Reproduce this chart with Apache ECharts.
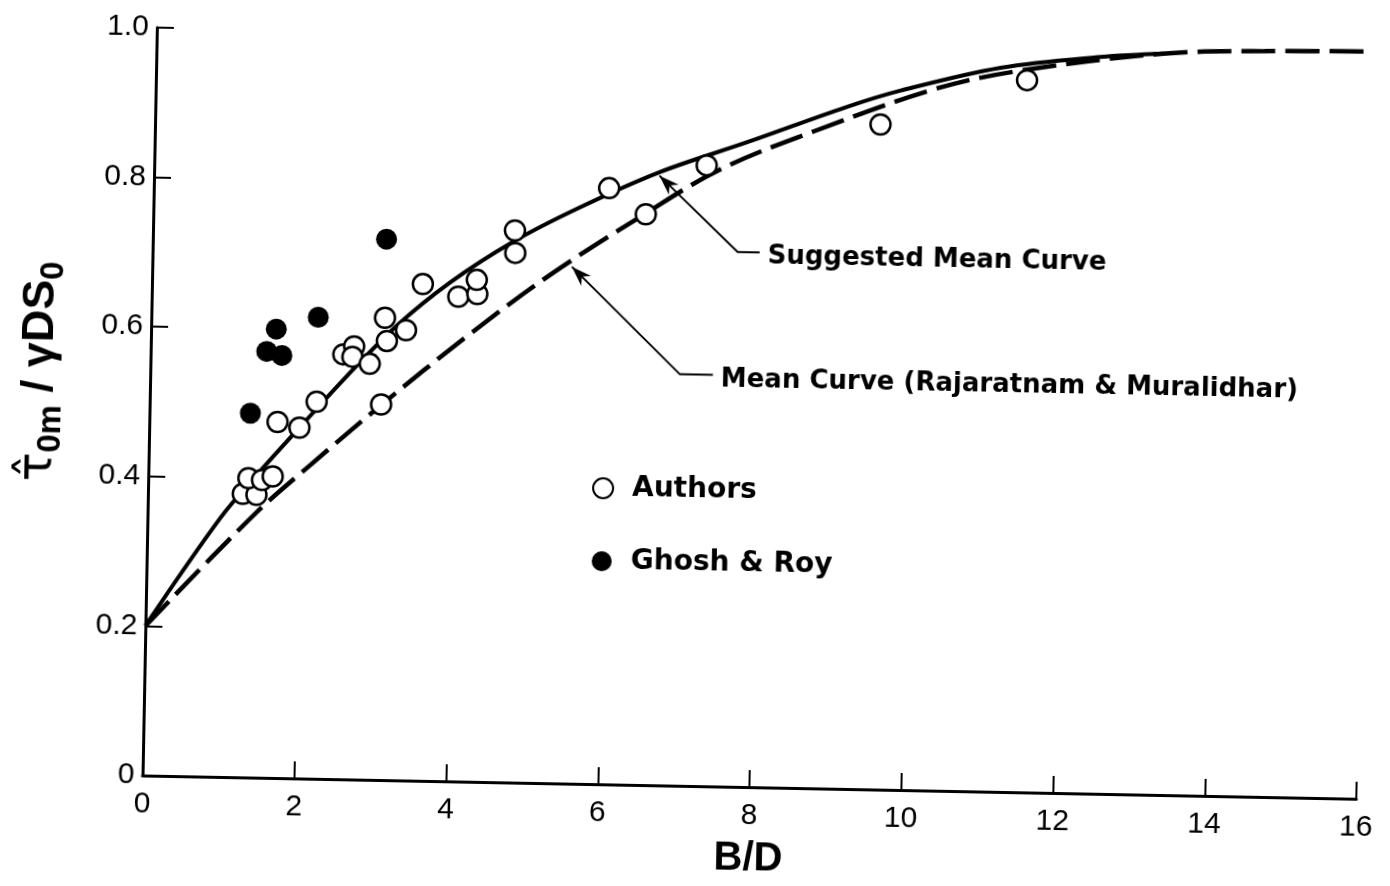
<!DOCTYPE html>
<html>
<head>
<meta charset="utf-8">
<title>Shear stress ratio vs B/D</title>
<script src="https://cdn.jsdelivr.net/npm/echarts/dist/echarts.min.js"></script>
<style>
  html, body { margin: 0; padding: 0; background: #fff; overflow: hidden; }
  #chart { width: 1390px; height: 886px; transform: rotate(1.1deg); transform-origin: 50% 50%; }
</style>
</head>
<body>
<div id="chart"></div>
<script>
// Measured points: B/D against normalised max bed shear stress
const authorsBD  = [1.25, 1.43, 1.32, 1.50, 1.64, 1.69, 1.98, 2.20, 3.05, 2.54, 2.68, 2.66, 2.89, 3.11, 3.08, 3.36, 3.57, 4.04, 4.29, 4.28, 4.77, 4.78, 6.00, 6.49, 7.28, 9.56, 11.48];
const authorsTau = [0.379, 0.378, 0.400, 0.398, 0.403, 0.476, 0.469, 0.504, 0.502, 0.568, 0.579, 0.565, 0.556, 0.587, 0.618, 0.602, 0.664, 0.648, 0.652, 0.671, 0.738, 0.708, 0.797, 0.763, 0.830, 0.889, 0.952];

const ghoshBD  = [3.08, 1.65, 2.20, 1.53, 1.73, 1.33];
const ghoshTau = [0.723, 0.600, 0.617, 0.570, 0.565, 0.487];

// Suggested mean curve (solid)
const suggestedBD  = [0, 0.96, 1.45, 1.99, 2.60, 3.24, 3.93, 4.75, 5.63, 6.67, 7.81, 9.12, 9.82, 11.13, 12.44, 13.27];
const suggestedTau = [0.200, 0.346, 0.407, 0.470, 0.540, 0.608, 0.667, 0.723, 0.771, 0.820, 0.862, 0.912, 0.935, 0.968, 0.985, 0.991];

// Mean curve of Rajaratnam & Muralidhar (dashed)
const rajaratnamBD  = [0, 1.42, 2.13, 3.06, 4.16, 5.25, 6.47, 7.46, 8.68, 10.21, 11.30, 13.27, 14.60, 16.00];
const rajaratnamTau = [0.200, 0.353, 0.419, 0.502, 0.595, 0.680, 0.763, 0.825, 0.878, 0.936, 0.963, 0.991, 0.997, 0.999];

const xTickValues = [0, 2, 4, 6, 8, 10, 12, 14, 16];
const yTickLabels = ['0', '0.2', '0.4', '0.6', '0.8', '1.0'];

const seriesNames = ['Authors', 'Ghosh & Roy'];
const curveNames = ['Suggested Mean Curve', 'Mean Curve (Rajaratnam & Muralidhar)'];

const zip = (xs, ys) => xs.map((x, i) => [x, ys[i]]);

const FONT = '"Liberation Sans", Arial, sans-serif';
const NOTE_FONT = '"DejaVu Sans", "Liberation Sans", sans-serif';

const chart = echarts.init(document.getElementById('chart'), null, { renderer: 'canvas' });

chart.setOption({
  animation: false,
  backgroundColor: '#fff',
  grid: { left: 149, top: 38, width: 1214, height: 748, containLabel: false, outerBoundsMode: 'none' },
  xAxis: {
    type: 'value', min: 0, max: 16, interval: 2,
    name: 'B/D', nameLocation: 'middle', nameGap: 52,
    nameTextStyle: { fontSize: 40, fontWeight: 'bold', color: '#000', fontFamily: FONT },
    axisLine: { onZero: false, lineStyle: { color: '#000', width: 3 } },
    axisTick: { inside: true, length: 17, lineStyle: { color: '#000', width: 2 } },
    axisLabel: { fontSize: 30, color: '#000', fontFamily: FONT, margin: 14,
      formatter: v => xTickValues.includes(v) ? String(v) : '' },
    splitLine: { show: false }
  },
  yAxis: {
    type: 'value', min: 0, max: 1, interval: 0.2,
    name: '{t|τ̂}{s|0m}{n| / γDS}{s|0}',
    nameLocation: 'middle', nameRotate: 90, nameGap: 82,
    nameTextStyle: {
      color: '#000', fontFamily: FONT, fontSize: 40, padding: [0, 0, 0, 56],
      rich: {
        t: { fontSize: 48, fontFamily: '"DejaVu Sans"', color: '#000', lineHeight: 56 },
        n: { fontSize: 45, fontFamily: FONT, fontWeight: 'bold', color: '#000', lineHeight: 56 },
        s: { fontSize: 33, fontFamily: FONT, fontWeight: 'bold', color: '#000', lineHeight: 30, verticalAlign: 'bottom' }
      }
    },
    axisLine: { onZero: false, lineStyle: { color: '#000', width: 3 } },
    axisTick: { inside: true, length: 17, lineStyle: { color: '#000', width: 2 } },
    axisLabel: { fontSize: 30, color: '#000', fontFamily: FONT, margin: 8,
      formatter: v => yTickLabels[Math.round(v * 5)] },
    splitLine: { show: false }
  },
  legend: {
    data: seriesNames,
    orient: 'vertical', left: 588, top: 470,
    itemWidth: 20, itemHeight: 20, itemGap: 43,
    textStyle: { fontSize: 28, fontWeight: 'bold', color: '#000', fontFamily: NOTE_FONT,
      lineHeight: 30, padding: [0, 0, 0, 14] }
  },
  series: [
    {
      name: curveNames[0], type: 'line', data: zip(suggestedBD, suggestedTau),
      smooth: 0.35, symbol: 'none', z: 2,
      lineStyle: { color: '#000', width: 4 }
    },
    {
      name: curveNames[1], type: 'line', data: zip(rajaratnamBD, rajaratnamTau),
      smooth: 0.35, symbol: 'none', z: 2,
      lineStyle: { color: '#000', width: 4.5, type: [34, 10] }
    },
    {
      name: seriesNames[0], type: 'scatter', data: zip(authorsBD, authorsTau),
      symbol: 'circle', symbolSize: 20, z: 4,
      itemStyle: { color: '#fff', borderColor: '#000', borderWidth: 2.5, opacity: 1 }
    },
    {
      name: seriesNames[1], type: 'scatter', data: zip(ghoshBD, ghoshTau),
      symbol: 'circle', symbolSize: 21, z: 5,
      itemStyle: { color: '#000', borderColor: '#000', borderWidth: 0, opacity: 1 }
    }
  ]
});

// Leader lines with arrowheads pointing at each curve
const annotations = [
  { text: curveNames[0], tip: [6.66, 0.815], elbow: [7.71, 0.715], run: 22, textGap: 8, dy: 4 },
  { text: curveNames[1], tip: [5.53, 0.691], elbow: [6.98, 0.550], run: 33, textGap: 8, dy: 5 }
];

const toPx = p => chart.convertToPixel({ gridIndex: 0 }, p);
const graphics = [];
annotations.forEach(a => {
  const t = toPx(a.tip), e = toPx(a.elbow);
  const end = [e[0] + a.run, e[1]];
  graphics.push({
    type: 'polyline', silent: true, z: 10,
    shape: { points: [t, e, end] },
    style: { stroke: '#000', lineWidth: 2, fill: null }
  });
  const dx = t[0] - e[0], dy = t[1] - e[1];
  const len = Math.hypot(dx, dy), ux = dx / len, uy = dy / len;
  const nx = -uy, ny = ux, L = 20, W = 7, N = 6;
  graphics.push({
    type: 'polygon', silent: true, z: 11,
    shape: { points: [
      t,
      [t[0] - L * ux + W * nx, t[1] - L * uy + W * ny],
      [t[0] - (L - N) * ux, t[1] - (L - N) * uy],
      [t[0] - L * ux - W * nx, t[1] - L * uy - W * ny]
    ] },
    style: { fill: '#000' }
  });
  graphics.push({
    type: 'text', silent: true, z: 11,
    x: end[0] + a.textGap, y: end[1] + a.dy,
    style: { text: a.text, fontSize: 26, fontWeight: 'bold', fontFamily: NOTE_FONT, fill: '#000',
      verticalAlign: 'middle', align: 'left' }
  });
});
chart.setOption({ graphic: graphics });
</script>
</body>
</html>
